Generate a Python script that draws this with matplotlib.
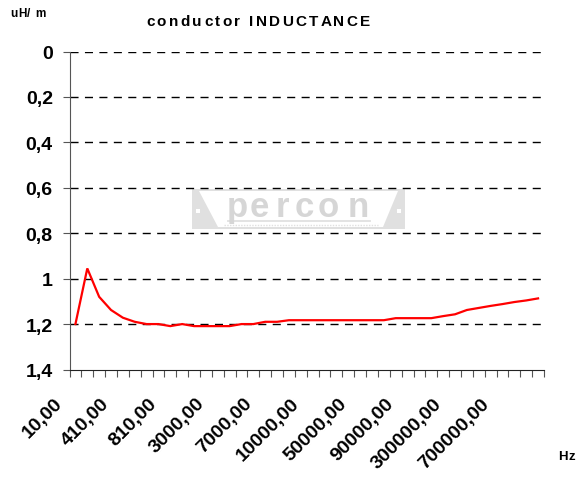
import matplotlib
matplotlib.use("Agg")
import matplotlib.pyplot as plt
from matplotlib.patches import Polygon, Rectangle
from matplotlib.font_manager import FontProperties
import matplotlib.transforms as mtransforms
import numpy as np

categories = ["10,00", "110,00", "210,00", "310,00", "410,00", "510,00", "610,00", "710,00",
              "810,00", "910,00", "1000,00", "2000,00", "3000,00", "4000,00", "5000,00", "6000,00",
              "7000,00", "8000,00", "9000,00", "9500,00", "10000,00", "20000,00", "30000,00", "40000,00",
              "50000,00", "60000,00", "70000,00", "80000,00", "90000,00", "100000,00", "150000,00", "200000,00",
              "300000,00", "400000,00", "500000,00", "600000,00", "700000,00", "800000,00", "900000,00", "1000000,00"]
inductance = [1.200, 0.955, 1.080, 1.138, 1.172, 1.190, 1.200, 1.200,
              1.209, 1.200, 1.209, 1.209, 1.209, 1.209, 1.200, 1.200,
              1.190, 1.190, 1.183, 1.183, 1.183, 1.183, 1.183, 1.183,
              1.183, 1.183, 1.183, 1.174, 1.174, 1.174, 1.174, 1.165,
              1.157, 1.138, 1.129, 1.120, 1.112, 1.103, 1.096, 1.087]
yticks = [0, 0.2, 0.4, 0.6, 0.8, 1.0, 1.2, 1.4]
ytick_labels = ["0", "0,2", "0,4", "0,6", "0,8", "1", "1,2", "1,4"]
label_step = 4

W, H = 577, 481
fig = plt.figure(figsize=(W / 100, H / 100), dpi=100)
L, R, T, B = 69.5, 544.0, 52.5, 370.5
ax = fig.add_axes([L / W, 1 - B / H, (R - L) / W, (B - T) / H])
ax.set_facecolor("none")

FAM = "Liberation Sans"
n = len(categories)
x = np.arange(n)
ax.plot(x, inductance, color="#ff0000", lw=1.6, zorder=3, solid_joinstyle="miter")
ax.set_xlim(-0.5, n - 0.5)
ax.set_ylim(1.4, 0)

for yv in yticks[:-1]:
    ax.axhline(yv, color="black", lw=1.0, dashes=(5.8, 4.6), zorder=1)

ax.set_yticks(yticks)
ax.set_yticklabels(ytick_labels, fontsize=14, fontweight="bold", family=FAM)
ax.tick_params(axis="y", length=5, width=0.8, direction="out", pad=7, color="#555555")

ax.set_xticks(np.arange(n + 1) - 0.5)
ax.set_xticklabels([])
ax.tick_params(axis="x", length=5, width=0.8, direction="out", color="#555555")

off = mtransforms.ScaledTranslation(-22 / 100.0, -25 / 100.0, fig.dpi_scale_trans)
trans = mtransforms.blended_transform_factory(ax.transData, ax.transAxes) + off
for i in range(0, n, label_step):
    ax.text(i, 0, categories[i], rotation=45, ha="right", va="top", rotation_mode="anchor",
            fontsize=14, fontweight="bold", family=FAM, transform=trans, clip_on=False)

for s in ["top", "right"]:
    ax.spines[s].set_visible(False)
ax.spines["left"].set_color("#555555")
ax.spines["bottom"].set_color("#222222")


def fx(v):
    return v / W


def fy(v):
    return 1 - v / H


# watermark logo (decorative)
wm = "#e0e0e0"
fig.add_artist(Rectangle((fx(192), fy(230)), fx(405) - fx(192), fy(190) - fy(230),
                         transform=fig.transFigure, facecolor=wm, edgecolor="none", zorder=-2))
fig.add_artist(Polygon([(fx(199), fy(192)), (fx(398), fy(192)), (fx(383), fy(228)), (fx(218), fy(228))],
                       closed=True, transform=fig.transFigure, facecolor="white", edgecolor="none", zorder=-1.5))
for cx in (198, 399):
    fig.add_artist(Rectangle((fx(cx - 2), fy(214)), 4 / W, 4 / H, transform=fig.transFigure,
                             facecolor="white", edgecolor="none", zorder=-1.4))
for ch, cx in zip("percon", [237, 259, 282, 304, 328, 358]):
    fig.text(fx(cx), fy(217), ch, ha="center", va="baseline", fontsize=25, fontweight="bold",
             color="#d6d6d6", family=FAM, zorder=-1)
fig.add_artist(plt.Line2D([fx(228), fx(370)], [fy(221.5), fy(221.5)], transform=fig.transFigure,
                          color=wm, lw=1.3, zorder=-1))
fig.add_artist(plt.Line2D([fx(224), fx(378)], [fy(225.5), fy(225.5)], transform=fig.transFigure,
                          color=wm, lw=1.0, dashes=(1, 1), zorder=-1))


# letter-spaced text helper
renderer = fig.canvas.get_renderer()


def text_width(s, fp):
    t = fig.text(0, 0, s, fontproperties=fp)
    w = t.get_window_extent(renderer).width
    t.remove()
    return w


def spaced_text(s, x0, yc, size, spacing, ha="left"):
    fp = FontProperties(family=FAM, weight="bold", size=size)
    ref = text_width("I", fp)
    pos = [text_width(s[:k] + "I", fp) - ref + k * spacing for k in range(len(s))]
    total = text_width(s, fp) + (len(s) - 1) * spacing
    if ha == "center":
        x0 = x0 - total / 2
    for ch, p in zip(s, pos):
        if ch != " ":
            fig.text(fx(x0 + p), fy(yc), ch, fontproperties=fp, ha="left", va="center")


spaced_text("conductor INDUCTANCE", 258, 22, 11, 2.4, ha="center")
spaced_text("uH/ m", 10, 14, 8.5, 0.8)
spaced_text("Hz", 558, 457, 9.5, 1.0)

fig.savefig("out.png", dpi=100)
